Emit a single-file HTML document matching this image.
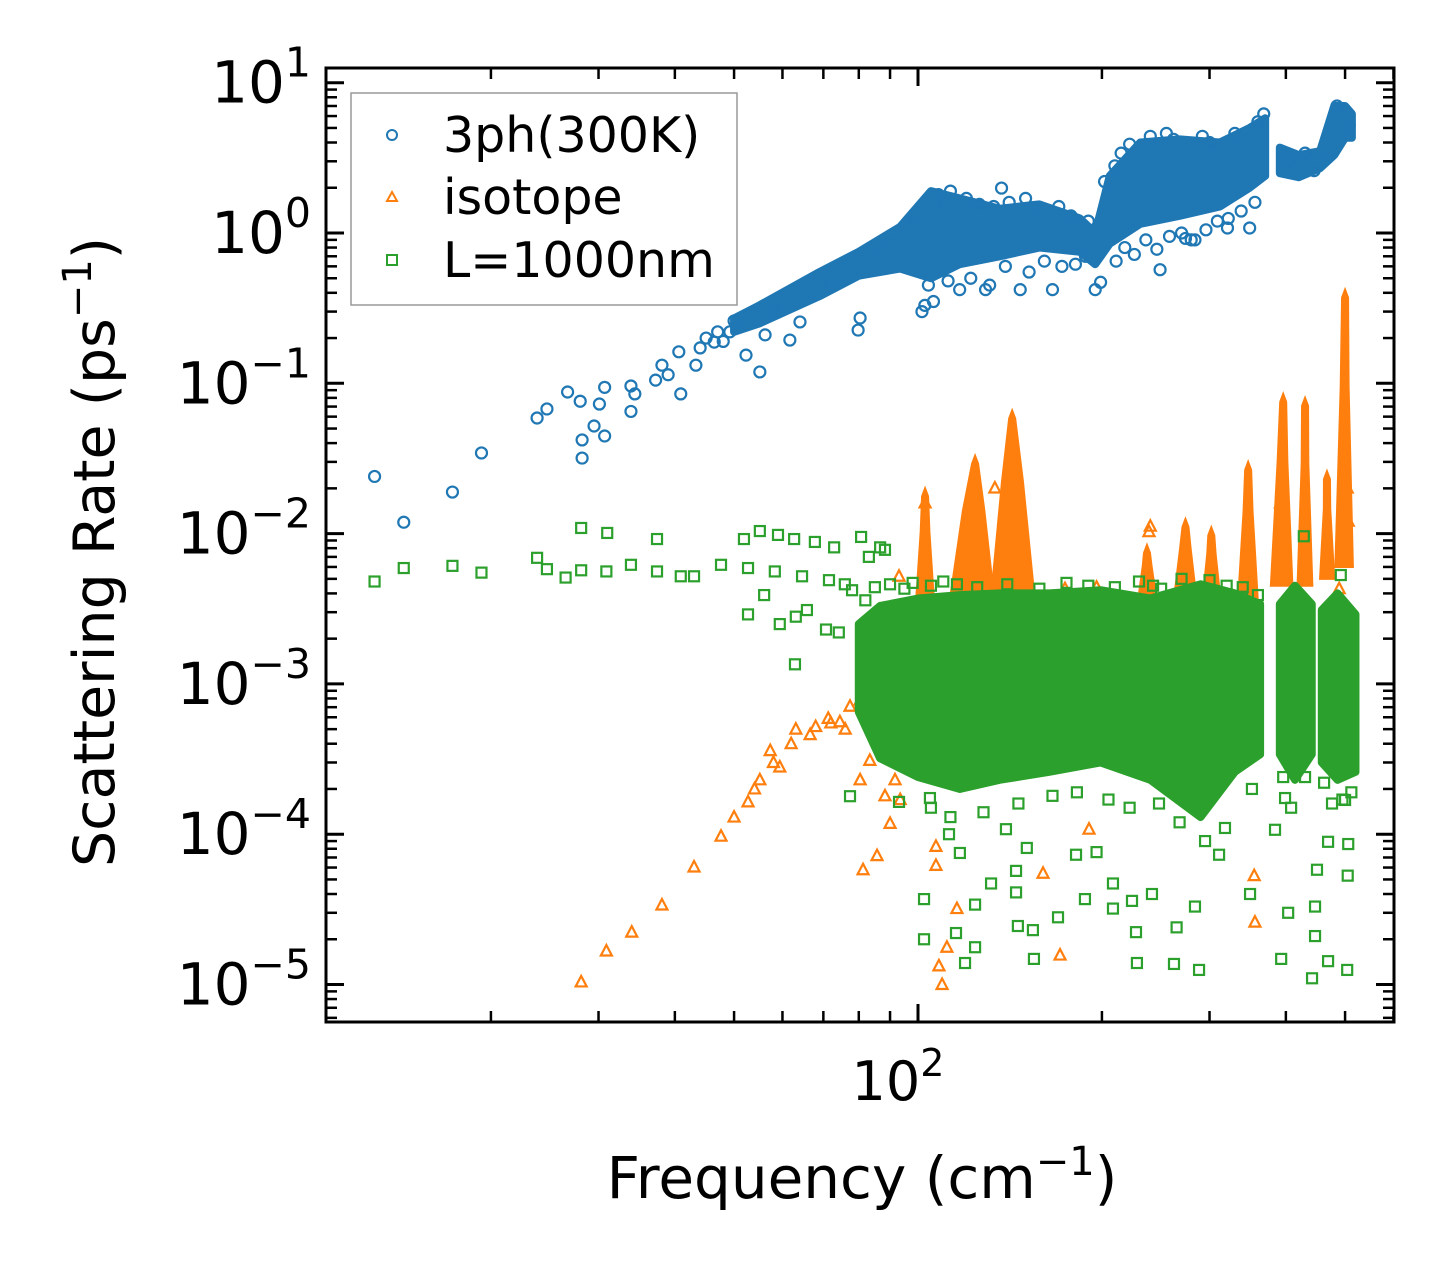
<!DOCTYPE html>
<html>
<head>
<meta charset="utf-8">
<style>
html,body{margin:0;padding:0;background:#fff;}
svg{display:block;font-family:"DejaVu Sans","Liberation Sans",sans-serif;}
</style>
</head>
<body>
<svg id="chart" width="1455" height="1273" viewBox="0 0 1455 1273" xmlns="http://www.w3.org/2000/svg">
  <defs>
    <clipPath id="plotclip"><rect x="326" y="68" width="1068" height="954"/></clipPath>
  </defs>
  <rect x="0" y="0" width="1455" height="1273" fill="#fff"/>
  <g id="ticks"></g>
  <g id="plot" clip-path="url(#plotclip)"></g>
  <rect x="326" y="68" width="1068" height="954" fill="none" stroke="#000" stroke-width="3"/>
  <g id="ylabels"></g>
  <text x="898" y="1100" text-anchor="middle" font-size="54">10<tspan dy="-24" font-size="38">2</tspan></text>
  <text x="862" y="1198" text-anchor="middle" font-size="58">Frequency (cm<tspan dy="-23" font-size="40">−1</tspan><tspan dy="23">)</tspan></text>
  <text transform="translate(114,552) rotate(-90)" text-anchor="middle" font-size="57">Scattering Rate (ps<tspan dy="-23" font-size="40">−1</tspan><tspan dy="23">)</tspan></text>
  <g>
    <rect x="351" y="93" width="386" height="212" fill="#fff" fill-opacity="0.8" stroke="#999" stroke-width="1.5"/>
    <circle cx="392" cy="135" r="5" fill="none" stroke="#1f77b4" stroke-width="2"/>
    <text x="443" y="152" font-size="49">3ph(300K)</text>
    <polygon points="392,192 397,201 387,201" fill="none" stroke="#ff7f0e" stroke-width="2"/>
    <text x="443" y="214" font-size="49">isotope</text>
    <rect x="387" y="255" width="10" height="10" fill="none" stroke="#2ca02c" stroke-width="2"/>
    <text x="443" y="277" font-size="49">L=1000nm</text>
  </g>
</svg>
<script>
// ---------- data (frequency in cm^-1, rate in ps^-1) ----------
const yTickExps = [1, 0, -1, -2, -3, -4, -5];
const xMajorTicks = [100];
const xMinorTicks = [20, 30, 40, 50, 60, 70, 80, 90, 200, 300, 400, 500, 600];

// 3ph (300K) dense band envelope
const phBandF  = [50, 55, 69, 80, 93.5, 105, 117, 136, 158, 184, 195, 206, 231, 268, 312, 349, 370];
const phBandHi = [0.27, 0.33, 0.55, 0.75, 1.1, 1.9, 1.7, 1.45, 1.55, 1.25, 1.0, 2.4, 4.0, 4.2, 4.0, 5.0, 5.8];
const phBandLo = [0.22, 0.25, 0.38, 0.52, 0.58, 0.5, 0.62, 0.7, 0.8, 0.75, 0.62, 0.85, 1.15, 1.3, 1.5, 2.0, 2.4];
const phBand2F  = [391, 420, 455, 480, 500, 513];
const phBand2Hi = [3.7, 3.3, 3.5, 7.0, 7.0, 6.2];
const phBand2Lo = [2.5, 2.35, 2.7, 3.3, 4.3, 4.3];
// 3ph scattered points
const phF = [12.9,14.4,17.3,19.3,23.8,24.7,26.7,28.0,28.2,28.2,29.5,30.1,30.7,30.7,33.9,33.9,34.4,37.2,38.1,39.0,40.9,40.6,43.3,44,46.4,49.2,52.3,55.1,56.2,61.7,64.1,79.8,80.4,101.5,102.6,117,129,137,147,166,195,199,249,274,284,321,349,
  45,47,48,50,53,58,60,66,72,76,85,90,96,99,108,111,113,120,126,133,141,150,155,170,178,190,202,210,215,222,240,255,262,292,300,330,360,368,395,404,430,445,470,485,508,
  104,106,112,122,131,139,152,161,172,181,188,211,218,226,236,246,258,270,280,296,309,322,338,356];
const phV = [0.024,0.0119,0.0189,0.0344,0.0588,0.0675,0.0875,0.076,0.042,0.0318,0.052,0.0728,0.0446,0.094,0.065,0.096,0.085,0.105,0.132,0.114,0.085,0.162,0.132,0.172,0.188,0.22,0.154,0.119,0.21,0.194,0.256,0.226,0.272,0.30,0.33,0.42,0.42,1.99,0.42,0.42,0.42,0.47,0.57,0.92,0.90,1.08,1.08,
  0.2,0.22,0.19,0.26,0.28,0.3,0.34,0.4,0.46,0.6,0.7,0.85,1.1,1.3,1.8,1.6,1.9,1.7,1.55,1.5,1.6,1.7,1.45,1.5,1.3,1.2,2.2,2.8,3.4,3.9,4.4,4.6,4.2,4.4,4.0,4.6,5.5,6.2,3.2,3.0,3.4,2.6,3.3,7.0,5.2,
  0.45,0.35,0.48,0.5,0.45,0.6,0.55,0.65,0.6,0.62,0.7,0.65,0.8,0.72,0.9,0.78,0.95,1.0,0.9,1.05,1.2,1.25,1.4,1.6];

// isotope spikes: left freq, peak freq, right freq, peak rate, base rate
const isoSpikeL    = [99, 112, 131, 229, 262, 292, 334, 378, 418, 455, 482];
const isoSpikeP    = [102.7, 124, 142.6, 237, 274, 302, 347, 396, 430, 467, 500];
const isoSpikeR    = [106.5, 134, 156, 246, 286, 313, 360, 410, 442, 480, 515];
const isoSpikeTop  = [0.020, 0.033, 0.066, 0.0084, 0.0125, 0.011, 0.030, 0.085, 0.080, 0.026, 0.42];
const isoSpikeBase = [0.003, 0.003, 0.003, 0.0035, 0.0035, 0.0035, 0.0035, 0.0045, 0.0045, 0.005, 0.006];
// isotope scattered points
const isoF = [28.1,30.9,34.0,38.1,43.0,47.6,52.7,59.4,63.1,71.3,77.4,55.1,57.3,66.6,74.5,80.4,81.3,85.7,90.0,107,107,115.8,111.5,108.2,109.5,170.8,190.5,356,355,160.2,93.1,174,196,391,469,489,504,506,392,392,133.6,102.7,238.8,240,83.4,86.7,91.7,95.2,80.4,93.5,88.3,
  50,54,58,62,68,72,76,84,89,92,97];
const isoV = [1.04e-5,1.67e-5,2.23e-5,3.38e-5,6.05e-5,9.7e-5,1.64e-4,2.8e-4,5.0e-4,5.9e-4,7.1e-4,2.3e-4,3.6e-4,4.6e-4,5.6e-4,7.8e-4,5.8e-5,7.2e-5,1.18e-4,8.3e-5,6.2e-5,3.2e-5,1.77e-5,1.33e-5,1.0e-5,1.57e-5,1.08e-4,2.6e-5,5.3e-5,5.5e-5,5.2e-3,4.3e-3,4.4e-3,6.2e-3,5.9e-3,4.3e-3,0.0201,0.0121,0.0112,0.016,0.0201,0.016,0.0103,0.0112,3.1e-4,4.2e-4,2.3e-4,5.7e-4,2.3e-4,1.7e-4,1.8e-4,
  1.3e-4,2.0e-4,3.0e-4,4.0e-4,5.2e-4,5.5e-4,5.0e-4,6.5e-4,4.5e-4,3.5e-4,2.8e-4];

// boundary (L=1000nm) dense band envelopes
const bdBandF  = [80, 86.7, 100, 117, 136, 164, 199, 240, 290, 330, 363];
const bdBandHi = [0.0025, 0.0033, 0.0037, 0.0039, 0.0040, 0.0040, 0.0042, 0.0037, 0.0046, 0.0040, 0.0034];
const bdBandLo = [6.5e-4, 3.2e-4, 2.4e-4, 2.0e-4, 2.3e-4, 2.6e-4, 3.0e-4, 2.3e-4, 1.3e-4, 2.6e-4, 3.4e-4];
const bdBand2F  = [391, 414, 441];
const bdBand2Hi = [0.0034, 0.0045, 0.0034];
const bdBand2Lo = [3.4e-4, 2.3e-4, 3.4e-4];
const bdBand3F  = [458, 486, 520];
const bdBand3Hi = [0.0031, 0.0040, 0.0029];
const bdBand3Lo = [3.0e-4, 2.3e-4, 2.6e-4];
// boundary scattered points
const bdF = [12.9,14.4,17.3,19.3,23.8,24.7,26.5,28.1,30.9,33.9,37.4,40.9,43.0,47.6,52.7,58.3,64.6,71.5,28.1,31.0,37.4,51.9,55.1,59.0,62.7,67.8,72.9,80.7,86.7,88.3,83.1,52.7,59.4,63.1,65.8,70.7,74.2,56.0,75.9,62.9,428,492,115.8,242.5,339,
  102.3,102.3,115.4,124,119.4,124,131.7,144.7,145.7,154.2,154.8,169.5,187.6,208.5,227.4,228.2,262.4,288.4,265,241.5,284,311,349.5,393,403.5,446.5,446.5,441.5,469,504,505,506,208.5,224,181.4,196,144.7,150.7,139.3,117.1,112.4,398.8,469,449.8,77.4,93.1,104.6,87.3,500,384,
  78,82,85,90,95,98,105,110,125,140,158,175,190,210,230,250,270,300,320,340,360,105,113,128,146,166,182,205,222,248,268,295,318,352,396,408,430,462,476,495,512];
const bdV = [4.8e-3,5.9e-3,6.1e-3,5.5e-3,6.9e-3,5.8e-3,5.1e-3,5.7e-3,5.6e-3,6.2e-3,5.6e-3,5.2e-3,5.2e-3,6.2e-3,5.9e-3,5.6e-3,5.2e-3,4.9e-3,0.0109,0.0101,9.2e-3,9.2e-3,0.0104,9.8e-3,9.2e-3,8.8e-3,8.1e-3,9.5e-3,8.1e-3,7.8e-3,7.0e-3,2.9e-3,2.5e-3,2.8e-3,3.1e-3,2.3e-3,2.2e-3,3.9e-3,4.6e-3,1.35e-3,9.6e-3,5.3e-3,4.6e-3,4.5e-3,3.8e-3,
  3.7e-5,2.0e-5,2.2e-5,1.77e-5,1.39e-5,3.4e-5,4.7e-5,4.1e-5,2.45e-5,2.3e-5,1.48e-5,2.8e-5,3.7e-5,3.2e-5,2.23e-5,1.39e-5,1.37e-5,1.25e-5,2.4e-5,4.0e-5,3.3e-5,7.3e-5,4.0e-5,1.48e-5,3.0e-5,3.3e-5,2.1e-5,1.1e-5,1.43e-5,1.25e-5,5.3e-5,8.6e-5,4.7e-5,3.6e-5,7.3e-5,7.6e-5,5.7e-5,8.1e-5,1.08e-4,7.5e-5,1.0e-4,1.74e-4,8.9e-5,5.8e-5,1.79e-4,1.64e-4,1.74e-4,3.5e-4,1.69e-4,1.07e-4,
  4.2e-3,3.6e-3,4.4e-3,4.6e-3,4.3e-3,4.7e-3,4.5e-3,4.8e-3,4.4e-3,4.6e-3,4.3e-3,4.7e-3,4.5e-3,4.4e-3,4.8e-3,4.3e-3,5.0e-3,4.9e-3,4.5e-3,4.4e-3,3.9e-3,1.5e-4,1.3e-4,1.4e-4,1.6e-4,1.8e-4,1.9e-4,1.7e-4,1.5e-4,1.6e-4,1.2e-4,9.0e-5,1.1e-4,2.0e-4,2.4e-4,1.5e-4,2.4e-4,2.2e-4,1.6e-4,1.7e-4,1.9e-4];

// ---------- axes ----------
const NS = 'http://www.w3.org/2000/svg';
const C_PH = '#1f77b4', C_ISO = '#ff7f0e', C_BD = '#2ca02c';
function fx(f){ return 918 + 611 * (Math.log10(f) - 2); }
function fy(v){ return 82.7 + 150.3 * (1 - Math.log10(v)); }
function mk(tag, attrs, parent){
  const e = document.createElementNS(NS, tag);
  for (const k in attrs) e.setAttribute(k, attrs[k]);
  parent.appendChild(e);
  return e;
}
const plot = document.getElementById('plot');
const ticks = document.getElementById('ticks');
const ylabels = document.getElementById('ylabels');
const TOP = 68, BOT = 1022, LEFT = 326, RIGHT = 1394;

for (let e = -6; e <= 1; e++) {
  const ym = fy(Math.pow(10, e));
  if (ym >= TOP - 1 && ym <= BOT + 1) {
    const t1 = mk('line', {x1: LEFT, x2: LEFT + 18, y1: ym, y2: ym, stroke: '#000', 'stroke-width': 3}, ticks);
    
    
    const t2 = mk('line', {x1: RIGHT, x2: RIGHT - 18, y1: ym, y2: ym, stroke: '#000', 'stroke-width': 3}, ticks);
    
    
  }
  for (let m = 2; m <= 9; m++) {
    const y = fy(m * Math.pow(10, e));
    if (y < TOP || y > BOT) continue;
    const a = mk('line', {x1: LEFT, x2: LEFT + 11, y1: y, y2: y, stroke: '#000', 'stroke-width': 2.5}, ticks);
    
    
    const b = mk('line', {x1: RIGHT, x2: RIGHT - 11, y1: y, y2: y, stroke: '#000', 'stroke-width': 2.5}, ticks);
    
    
  }
}
yTickExps.forEach(function(e){
  const y = fy(Math.pow(10, e));
  const t = mk('text', {x: 311, y: y + 20, 'text-anchor': 'end', 'font-size': 58}, ylabels);
  
  
  t.appendChild(document.createTextNode('10'));
  const s = mk('tspan', {dy: -26, 'font-size': 41}, t);
  s.textContent = (e < 0 ? '\u2212' + (-e) : String(e));
});
xMajorTicks.forEach(function(f){
  const x = fx(f);
  const a = mk('line', {x1: x, x2: x, y1: BOT, y2: BOT - 18, stroke: '#000', 'stroke-width': 3}, ticks);
  
  
  const b = mk('line', {x1: x, x2: x, y1: TOP, y2: TOP + 18, stroke: '#000', 'stroke-width': 3}, ticks);
  
  
});
xMinorTicks.forEach(function(f){
  const x = fx(f);
  if (x < LEFT || x > RIGHT) return;
  const a = mk('line', {x1: x, x2: x, y1: BOT, y2: BOT - 11, stroke: '#000', 'stroke-width': 2.5}, ticks);
  
  
  const b = mk('line', {x1: x, x2: x, y1: TOP, y2: TOP + 11, stroke: '#000', 'stroke-width': 2.5}, ticks);
  
  
});

// ---------- series ----------
function band(F, Hi, Lo, color, name, g){
  const pts = [];
  for (let i = 0; i < F.length; i++) pts.push(fx(F[i]) + ',' + fy(Hi[i]));
  for (let i = F.length - 1; i >= 0; i--) pts.push(fx(F[i]) + ',' + fy(Lo[i]));
  const p = mk('polygon', {points: pts.join(' '), fill: color, stroke: color, 'stroke-width': 8, 'stroke-linejoin': 'round'}, g);
  
  
}
function circle(f, v, g){
  const c = mk('circle', {cx: fx(f), cy: fy(v), r: 5.5, fill: 'none', stroke: C_PH, 'stroke-width': 2.2}, g);
  
  
}
function tri(f, v, g){
  const x = fx(f), y = fy(v);
  const p = mk('polygon', {points: x + ',' + (y - 6) + ' ' + (x + 5.5) + ',' + (y + 4.5) + ' ' + (x - 5.5) + ',' + (y + 4.5), fill: 'none', stroke: C_ISO, 'stroke-width': 2.2}, g);
  
  
}
function sq(f, v, g){
  const r = mk('rect', {x: fx(f) - 5, y: fy(v) - 5, width: 10, height: 10, fill: 'none', stroke: C_BD, 'stroke-width': 2.2}, g);
  
  
}

const gPh = mk('g', {}, plot);


band(phBandF, phBandHi, phBandLo, C_PH, 'band-3ph-main', gPh);
band(phBand2F, phBand2Hi, phBand2Lo, C_PH, 'band-3ph-high', gPh);
for (let i = 0; i < phF.length; i++) circle(phF[i], phV[i], gPh);

const gIso = mk('g', {}, plot);


for (let i = 0; i < isoSpikeP.length; i++) {
  const xl = fx(isoSpikeL[i]), xp = fx(isoSpikeP[i]), xr = fx(isoSpikeR[i]);
  const yt = fy(isoSpikeTop[i]), yb = fy(isoSpikeBase[i]);
  const ym = yt + (yb - yt) * 0.35;
  const pts = [xl + ',' + yb, (xp - (xp - xl) * 0.45) + ',' + ym, (xp - 3) + ',' + (yt + 8), xp + ',' + yt, (xp + 3) + ',' + (yt + 8), (xp + (xr - xp) * 0.45) + ',' + ym, xr + ',' + yb].join(' ');
  const s = mk('polygon', {points: pts, fill: C_ISO, stroke: C_ISO, 'stroke-width': 2}, gIso);
  
  
}
for (let i = 0; i < isoF.length; i++) tri(isoF[i], isoV[i], gIso);

const gBd = mk('g', {}, plot);


band(bdBandF, bdBandHi, bdBandLo, C_BD, 'band-boundary-main', gBd);
band(bdBand2F, bdBand2Hi, bdBand2Lo, C_BD, 'band-boundary-2', gBd);
band(bdBand3F, bdBand3Hi, bdBand3Lo, C_BD, 'band-boundary-3', gBd);
for (let i = 0; i < bdF.length; i++) sq(bdF[i], bdV[i], gBd);
</script>
</body>
</html>
